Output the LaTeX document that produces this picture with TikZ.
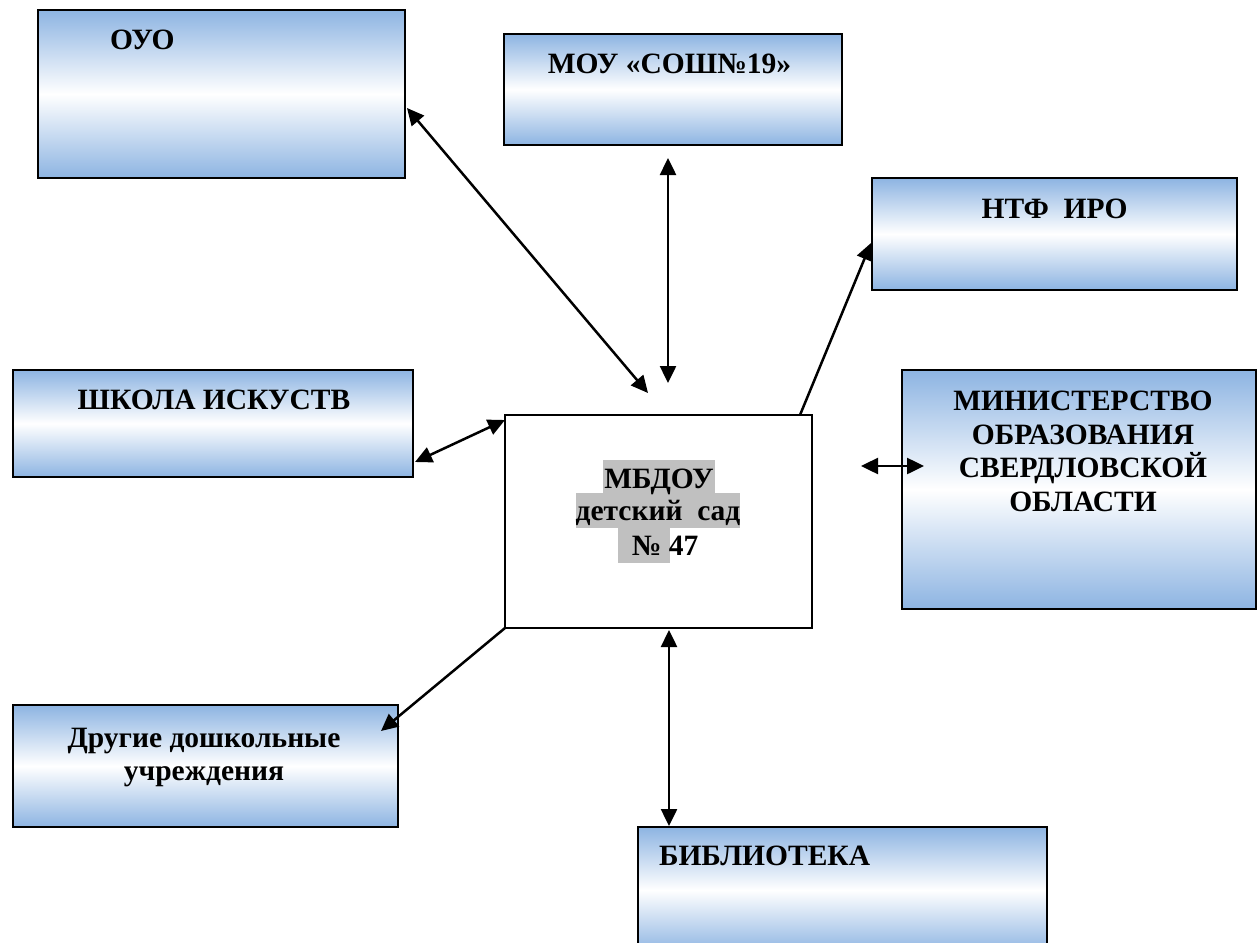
\documentclass[tikz,border=0pt]{standalone}
\usepackage{fontspec}
\setmainfont{Liberation Serif}
\usetikzlibrary{arrows.meta}
\definecolor{boxblue}{RGB}{141,180,226}
\definecolor{hlgray}{RGB}{192,192,192}
\begin{document}
\begin{tikzpicture}[x=0.5pt,y=-0.5pt,
  box/.style={draw=black, line width=1.1pt, rectangle, anchor=north west,
    inner sep=0pt, outer sep=0pt, top color=boxblue, bottom color=boxblue, middle color=white},
  plainbox/.style={draw=black, line width=1.1pt, rectangle, anchor=north west,
    inner sep=0pt, outer sep=0pt, fill=white},
  lbl/.style={font=\bfseries\fontsize{14.75pt}{16.75pt}\selectfont, inner sep=0pt, outer sep=0pt},
  tip/.tip={Triangle[length=8.5pt,width=8pt]},
  both/.style={line width=1.25pt, tip-tip},
  one/.style={line width=1.25pt, -tip}]
\useasboundingbox (0,0) rectangle (1257,942);
\clip (0,0) rectangle (1257,942);

% boxes
\node[box, minimum width=183.5pt, minimum height=84pt]  (oyo)  at (38,10) {};
\node[box, minimum width=169pt,   minimum height=55.5pt] (sosh) at (504,34) {};
\node[box, minimum width=182.5pt, minimum height=56pt]  (ntf)  at (872,178) {};
\node[box, minimum width=200pt,   minimum height=53.5pt] (art) at (13,370) {};
\node[plainbox, minimum width=153.5pt, minimum height=106.5pt] (mbdou) at (505,415) {};
\node[box, minimum width=177pt,   minimum height=119.5pt] (min) at (902,370) {};
\node[box, minimum width=192.5pt, minimum height=61pt]  (other) at (13,705) {};
\node[box, minimum width=204.5pt, minimum height=63pt]  (lib)  at (638,827) {};

% highlights in the centre box
\fill[hlgray] (603,460) rectangle (715,494);
\fill[hlgray] (576,493) rectangle (740,528);
\fill[hlgray] (618,527) rectangle (670,563);

% labels
\node[lbl, anchor=base west] (toyo) at (110,49) {ОУО};
\node[lbl, anchor=base] (tsosh) at (669.5,73) {МОУ «СОШ№19»};
\node[lbl, anchor=base] (tntf) at (1054.5,218) {НТФ\ \ ИРО};
\node[lbl, anchor=base] (tart) at (214,409) {ШКОЛА ИСКУСТВ};
\node[lbl, anchor=base] (tm1) at (659,488) {МБДОУ};
\node[lbl, anchor=base] (tm2) at (658,520) {детский\ \ сад};
\node[lbl, anchor=base] (tm3) at (665,555) {№ 47};
\node[lbl, anchor=north, align=center] (tmin) at (1083,391)
  {МИНИСТЕРСТВО\\ОБРАЗОВАНИЯ\\СВЕРДЛОВСКОЙ\\ОБЛАСТИ};
\node[lbl, anchor=north, align=center] (tother) at (204,728)
  {Другие дошкольные\\учреждения};
\node[lbl, anchor=base west] (tlib) at (659,865) {БИБЛИОТЕКА};

% connector end points
\coordinate (a1) at (407,108);
\coordinate (a2) at (648,393);
\coordinate (b1) at (668,158);
\coordinate (b2) at (668,383);
\coordinate (c1) at (800,415);
\coordinate (c2) at (871,243);
\coordinate (d1) at (505,420);
\coordinate (d2) at (415,462);
\coordinate (e1) at (861,466);
\coordinate (e2) at (924,466);
\coordinate (f1) at (505,628);
\coordinate (f2) at (381,731);
\coordinate (g1) at (669,630);
\coordinate (g2) at (669,826);

\draw[both] (a1) -- (a2);
\draw[both] (b1) -- (b2);
\draw[one]  (c1) -- (c2);
\draw[both] (d1) -- (d2);
\draw[both] (e1) -- (e2);
\draw[one]  (f1) -- (f2);
\draw[both] (g1) -- (g2);
\end{tikzpicture}
\end{document}
